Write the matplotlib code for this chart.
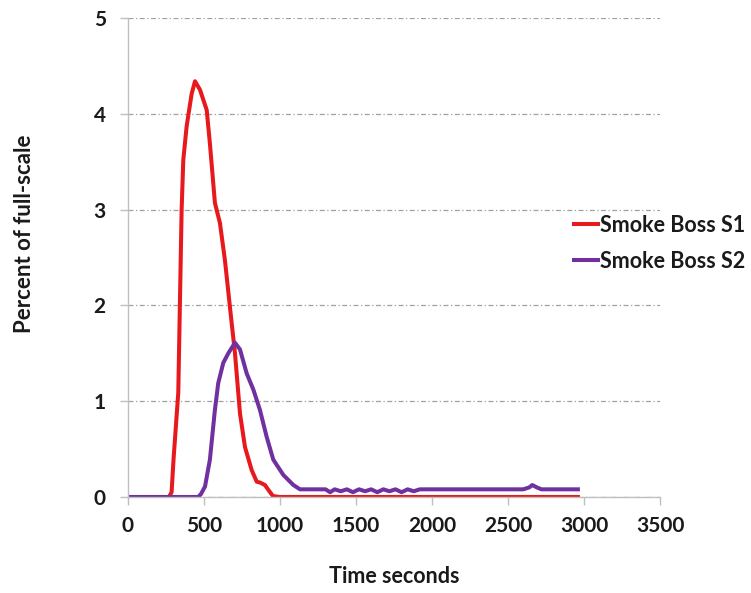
import numpy as np
from matplotlib import pyplot as plt

plt.rcParams['font.family'] = ['Lato', 'DejaVu Sans']
plt.rcParams['font.weight'] = 'bold'

# Smoke Boss S1 (time in seconds, percent of full-scale)
t_s1 = [0, 270, 287, 300, 331, 353, 364, 386, 419, 441, 474, 518, 539, 572, 605,
        638, 671, 704, 737, 770, 814, 847, 870, 901, 930, 954, 1000, 1500, 2000, 2500, 2960]
v_s1 = [0, 0, 0.05, 0.4, 1.09, 3.0, 3.52, 3.87, 4.21, 4.34, 4.25, 4.04, 3.69, 3.07, 2.86,
        2.47, 1.98, 1.50, 0.87, 0.52, 0.28, 0.16, 0.15, 0.125, 0.06, 0.01, 0, 0, 0, 0, 0]

# Smoke Boss S2
t_s2 = [0, 461, 480, 507, 539, 572, 594, 627, 660, 704, 737, 781, 825, 868, 912, 956,
        1022, 1088, 1132, 1200, 1300, 1330, 1360, 1400, 1440, 1480, 1520, 1560, 1600,
        1640, 1680, 1720, 1760, 1800, 1840, 1880, 1920, 1960, 2100, 2300, 2500, 2600,
        2640, 2660, 2690, 2720, 2800, 2960]
v_s2 = [0, 0, 0.03, 0.11, 0.39, 0.91, 1.19, 1.40, 1.50, 1.61, 1.54, 1.29, 1.12, 0.91,
        0.63, 0.39, 0.23, 0.125, 0.08, 0.08, 0.08, 0.05, 0.08, 0.06, 0.08, 0.05, 0.08,
        0.06, 0.08, 0.05, 0.08, 0.06, 0.08, 0.05, 0.08, 0.06, 0.08, 0.08, 0.08, 0.08,
        0.08, 0.08, 0.1, 0.125, 0.1, 0.08, 0.08, 0.08]

x_ticks = [0, 500, 1000, 1500, 2000, 2500, 3000, 3500]
y_ticks = [0, 1, 2, 3, 4, 5]

fig = plt.figure(figsize=(7.51, 5.93), dpi=100)
ax = fig.add_axes([0.1704, 0.1619, 0.7084, 0.8077])

ax.plot(t_s1, v_s1, color='#e8191c', lw=2.9, label='Smoke Boss S1', solid_joinstyle='round')
ax.plot(t_s2, v_s2, color='#7030a0', lw=2.9, label='Smoke Boss S2', solid_joinstyle='round')

ax.set_xlim(0, 3500)
ax.set_ylim(0, 5)
ax.set_xticks(x_ticks)
ax.set_yticks(y_ticks)
ax.yaxis.grid(True, color='#a0a0a0', lw=0.9, linestyle=(0, (4, 2, 1, 2)))
ax.set_axisbelow(True)

for s in ['top', 'right']:
    ax.spines[s].set_visible(False)
for s in ['left', 'bottom']:
    ax.spines[s].set_color('#bfbfbf')
    ax.spines[s].set_linewidth(1.0)

ax.tick_params(axis='both', colors='#bfbfbf', labelcolor='#1a1a1a', labelsize=15,
               length=6, width=1.0)
ax.tick_params(axis='y', pad=10)
ax.tick_params(axis='x', pad=8)

ax.set_xlabel('Time seconds', fontsize=15.5, fontweight='bold', labelpad=21, color='#1a1a1a')
ax.set_ylabel('Percent of full-scale', fontsize=16, fontweight='bold', color='#1a1a1a')
ax.yaxis.set_label_coords(-0.175, 0.55)

leg = ax.legend(loc='upper left', bbox_to_anchor=(0.822, 0.607), frameon=False,
                fontsize=15.5, handlelength=1.1, handletextpad=0.1, labelspacing=0.7,
                borderaxespad=0)
for txt in leg.get_texts():
    txt.set_color('#1a1a1a')
    txt.set_fontweight('bold')

plt.savefig('out.png', dpi=100)
